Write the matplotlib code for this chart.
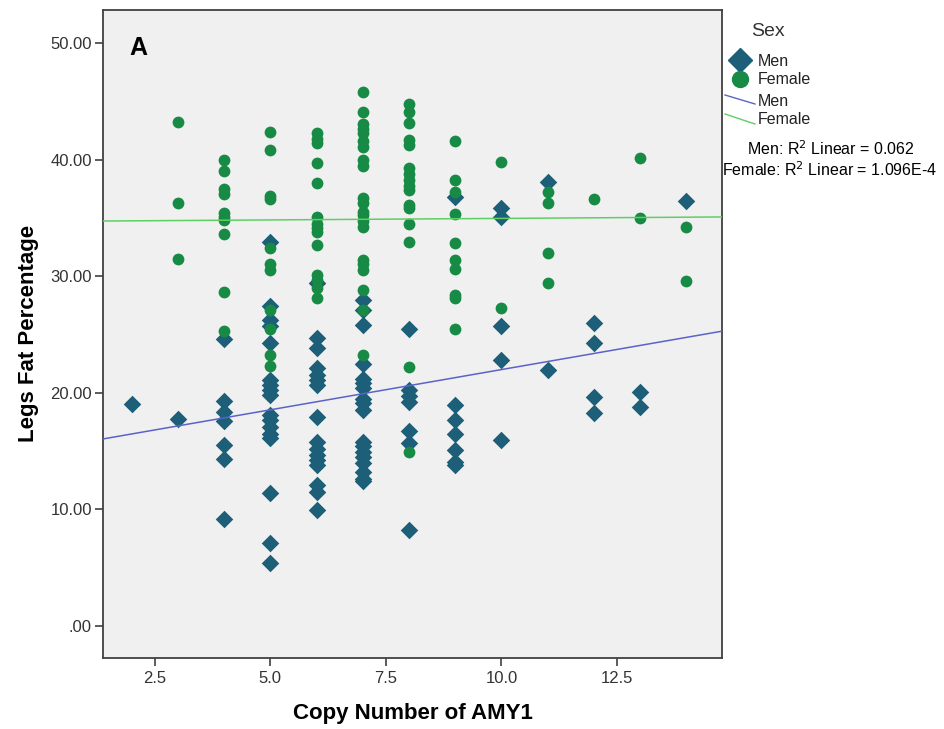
import numpy as np
import matplotlib
matplotlib.use('Agg')
from matplotlib import pyplot as plt
from matplotlib.lines import Line2D

plt.rcParams['font.family'] = ['Liberation Sans', 'DejaVu Sans']

# legs fat % per AMY1 copy number
men_fat = {
    2: [19.0],
    3: [17.75],
    4: [24.6, 19.3, 18.35, 17.6, 15.5, 14.3, 9.2],
    5: [32.95, 27.4, 26.2, 25.7, 24.25, 21.1, 20.7, 20.2, 19.8, 18.1, 17.7,
        17.1, 16.5, 16.1, 11.4, 7.1, 5.4],
    6: [29.4, 24.7, 23.8, 22.1, 21.5, 21.1, 20.7, 17.95, 15.8, 15.2, 14.7,
        14.2, 13.8, 12.1, 11.5, 9.95],
    7: [27.95, 27.1, 25.8, 22.5, 21.2, 20.8, 20.4, 19.5, 19.1, 18.5, 15.8,
        15.4, 14.95, 14.5, 13.95, 13.2, 12.65, 12.4],
    8: [25.5, 20.2, 19.7, 19.25, 16.7, 15.7, 8.2],
    9: [36.8, 18.95, 17.65, 16.5, 15.1, 14.1, 13.8],
    10: [35.8, 35.1, 25.7, 22.8, 15.95],
    11: [38.1, 21.95],
    12: [25.95, 24.3, 19.65, 18.3],
    13: [20.1, 18.75],
    14: [36.4],
}
female_fat = {
    3: [43.25, 36.25, 31.45],
    4: [39.97, 39.05, 37.45, 37.05, 35.45, 35.1, 34.8, 33.6, 28.6, 25.3],
    5: [42.4, 40.8, 36.9, 36.6, 32.4, 31.0, 30.5, 27.1, 25.5, 23.2, 22.3],
    6: [42.25, 41.8, 41.4, 39.7, 37.95, 35.1, 34.5, 34.1, 33.8, 32.7, 30.1,
        29.7, 29.0, 28.1],
    7: [45.8, 44.05, 43.05, 42.6, 42.25, 41.55, 41.1, 39.95, 39.45, 36.7,
        36.25, 35.5, 35.25, 34.7, 34.25, 31.4, 31.0, 30.5, 28.8, 27.1, 23.2],
    8: [44.8, 44.1, 43.1, 41.7, 41.25, 39.25, 38.8, 38.25, 37.7, 37.4, 36.1,
        35.8, 34.5, 32.95, 22.2, 14.95],
    9: [41.6, 38.25, 37.25, 35.3, 32.8, 31.4, 30.6, 28.4, 28.1, 25.45],
    10: [39.75, 27.25],
    11: [37.2, 36.3, 32.0, 29.45],
    12: [36.6],
    13: [40.15, 34.95],
    14: [34.25, 29.6],
}

# linear fits (intercept, slope)
men_fit = (15.09, 0.69)
female_fit = (34.69, 0.026)
r2_labels = ['Men: R$^2$ Linear = 0.062', 'Female: R$^2$ Linear = 1.096E-4']

x_ticks = [2.5, 5.0, 7.5, 10.0, 12.5]
y_ticks = [0, 10, 20, 30, 40, 50]

MEN_C = '#1d5f79'
FEMALE_C = '#178b45'
MEN_LINE = '#5b63c9'
FEMALE_LINE = '#5fcf62'
FRAME = '#404040'


def flatten(groups: dict) -> tuple:
    xs, ys = [], []
    for copies, vals in groups.items():
        xs += [copies] * len(vals)
        ys += vals
    return np.array(xs, float), np.array(ys)


fig = plt.figure(figsize=(9.45, 7.29), dpi=100)
ax = fig.add_axes([0.109, 0.098, 0.655, 0.888])
ax.set_facecolor('#f0f0f0')

mx, my = flatten(men_fat)
fx, fy = flatten(female_fat)
ax.scatter(mx, my, marker='D', s=80, color=MEN_C, linewidths=0, zorder=3)
ax.scatter(fx, fy, marker='o', s=72, color=FEMALE_C, linewidths=0, zorder=4)

xlim = (1.38, 14.77)
line_x = np.array(xlim)
ax.plot(line_x, men_fit[0] + men_fit[1] * line_x, color=MEN_LINE, lw=1.1, zorder=5)
ax.plot(line_x, female_fit[0] + female_fit[1] * line_x, color=FEMALE_LINE, lw=1.1, zorder=5)

ax.set_xlim(*xlim)
ax.set_ylim(-2.7, 52.8)
ax.set_xticks(x_ticks)
ax.set_xticklabels([f'{t:.1f}' for t in x_ticks])
ax.set_yticks(y_ticks)
ax.set_yticklabels(['.00' if t == 0 else f'{t:.2f}' for t in y_ticks])
ax.tick_params(length=6, width=1.2, color=FRAME, labelcolor='#333333',
               labelsize=12, pad=2)
ax.tick_params(axis='x', pad=4)
for sp in ax.spines.values():
    sp.set_color(FRAME)
    sp.set_linewidth(1.3)

ax.set_xlabel('Copy Number of AMY1', fontsize=16, fontweight='bold', labelpad=12)
ax.set_ylabel('Legs Fat Percentage', fontsize=16, fontweight='bold', labelpad=8)
ax.text(0.042, 0.96, 'A', transform=ax.transAxes, fontsize=18,
        fontweight='bold', va='top', ha='left')

# legend drawn by hand in figure coordinates
W, H = 945, 729


def fx_(px):
    return px / W


def fy_(py):
    return 1 - py / H


fig.text(fx_(751), fy_(31), 'Sex', fontsize=14, color='#333333', va='center')
fig.add_artist(Line2D([fx_(740)], [fy_(60)], marker='D', markersize=12.5,
                      color=MEN_C, linestyle='none'))
fig.add_artist(Line2D([fx_(740)], [fy_(79)], marker='o', markersize=11.5,
                      color=FEMALE_C, linestyle='none'))
fig.add_artist(Line2D([fx_(725), fx_(755)], [fy_(95), fy_(104)],
                      color=MEN_LINE, lw=1.0))
fig.add_artist(Line2D([fx_(725), fx_(755)], [fy_(114), fy_(124)],
                      color=FEMALE_LINE, lw=1.0))
for py, label in [(61, 'Men'), (80, 'Female'), (101, 'Men'), (120, 'Female')]:
    fig.text(fx_(758), fy_(py), label, fontsize=11.5, color='#222222', va='center')

fig.text(fx_(831), fy_(149), r2_labels[0], fontsize=11.5, ha='center', va='center')
fig.text(fx_(830), fy_(170), r2_labels[1], fontsize=11.5, ha='center', va='center')

fig.savefig('out.png', dpi=100, facecolor='white')
